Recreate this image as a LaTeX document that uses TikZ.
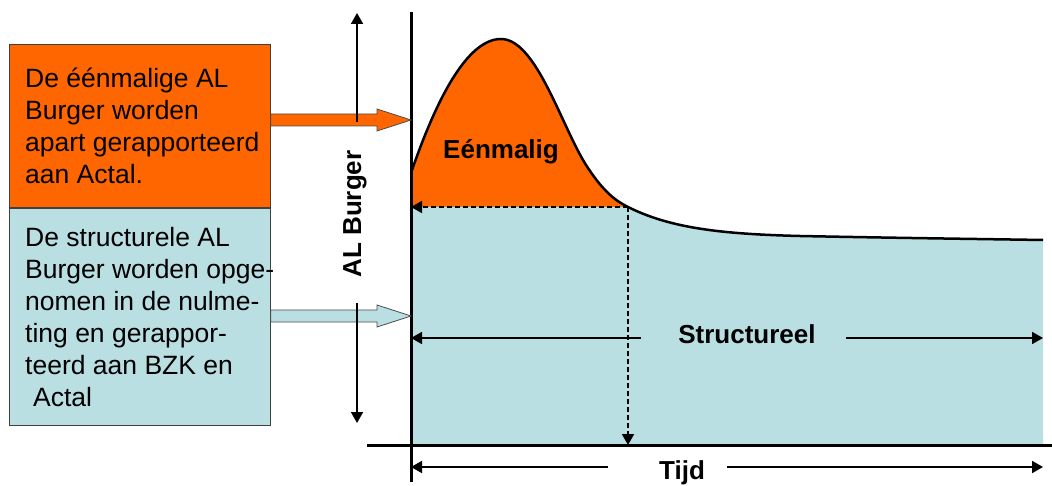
\documentclass[tikz,border=0pt]{standalone}
\usepackage{fontspec}
\setmainfont{Liberation Sans}
\usetikzlibrary{arrows.meta, positioning, calc}

\definecolor{eenorange}{RGB}{255,102,0}
\definecolor{structblue}{RGB}{185,223,227}

% curve pieces (pixel units)
\newcommand{\peakcurve}{(peakstart) .. controls (436,100) and (467,39) .. (501,39) .. controls (536,39) and (561,125) .. (586,165) .. controls (601,188) and (612,199) .. (peakend)}
\newcommand{\tailcurve}{.. controls (670,228) and (720,234) .. (800,236) .. controls (900,238) and (980,239) .. (tailend)}
% block arrow from #1 to tip #2
\newcommand{\blockarrow}[3]{\filldraw[blockarrow, fill=#3] ($(#1)+(0,6)$) -- ($(#2)+(-34,6)$) -- ($(#2)+(-34,11)$) -- (#2) -- ($(#2)+(-34,-11)$) -- ($(#2)+(-34,-6)$) -- ($(#1)+(0,-6)$) -- cycle;}

\begin{document}
\begin{tikzpicture}[
    x=1pt, y=-1pt,
    font=\fontsize{26.5}{32}\selectfont,
    >={Triangle[length=11pt, width=12pt]},
    infobox/.style={draw=black!75, line width=0.8pt, minimum width=261, minimum height=#1, anchor=north west, inner sep=0},
    boxtext/.style={anchor=north west, inner sep=0, align=left},
    label/.style={font=\fontsize{26}{32}\selectfont\bfseries, inner sep=0},
    axis/.style={line width=3pt},
    thinarrow/.style={->, line width=1.8pt},
    dasharrow/.style={->, line width=1.8pt, dash pattern=on 5pt off 3pt},
    curve/.style={line width=2.5pt},
    blockarrow/.style={draw=black!70, line width=0.8pt}
]
\useasboundingbox (0,0) rectangle (1052,486);

% COORDINATES
\coordinate (origin) at (411,445);
\coordinate (ytop) at (411,12);
\coordinate (ybottom) at (411,482);
\coordinate (xleft) at (367,445);
\coordinate (xright) at (1052,445);
\coordinate (peakstart) at (411,173);
\coordinate (peakend) at (628,207);
\coordinate (tailend) at (1043,240);

% FILLS
\fill[eenorange] \peakcurve -- (origin |- peakend) -- cycle;
\fill[structblue] (origin |- peakend) -- (peakend) \tailcurve -- (origin -| tailend) -- (origin) -- cycle;
\draw[curve] \peakcurve \tailcurve;

% DASHED LINES
\draw[dasharrow] (peakend) -- (origin |- peakend);
\draw[dasharrow] (peakend) -- (origin -| peakend);

% AXES
\draw[axis] (ytop) -- (ybottom);
\draw[axis] (xleft) -- (xright);

% TEXT BOXES
\node[infobox=163, fill=eenorange] (eenbox) at (9,44) {};
\node[infobox=217, fill=structblue] (structbox) at (eenbox.south west) {};
\node[boxtext] (eentext) at (25,68) {De éénmalige AL\\Burger worden\\apart gerapporteerd\\aan Actal.};
\node[boxtext] (structtext) at (25,227) {De structurele AL\\Burger worden opge-\\nomen in de nulme-\\ting en gerappor-\\teerd aan BZK en\\\hspace*{8pt}Actal};

% BLOCK ARROWS
\coordinate (eentip) at (411,120);
\coordinate (eenfrom) at (eenbox.east |- eentip);
\coordinate (structtip) at (411,316);
\coordinate (structfrom) at (structbox.east |- structtip);
\blockarrow{eenfrom}{eentip}{eenorange}
\blockarrow{structfrom}{structtip}{structblue}

% AL BURGER
\node[label, rotate=90] (alburger) at (355,214) {AL Burger};
\coordinate (alup) at (357,122);
\coordinate (altop) at (357,13);
\coordinate (aldown) at (357,303);
\coordinate (albottom) at (357,423);
\draw[thinarrow] (alup) -- (altop);
\draw[thinarrow] (aldown) -- (albottom);

% LABELS
\node[label, anchor=base] (eenmalig) at (501,159) {Eénmalig};
\node[label, anchor=base] (structureel) at (747,343) {Structureel};
\node[label, anchor=base] (tijd) at (682,479) {Tijd};

% STRUCTUREEL
\coordinate (strleft) at (641,338);
\coordinate (strright) at (846,338);
\draw[thinarrow] (strleft) -- (origin |- strleft);
\draw[thinarrow] (strright) -- (tailend |- strright);

% TIJD
\coordinate (tijdleft) at (608,467);
\coordinate (tijdright) at (727,467);
\draw[thinarrow] (tijdleft) -- (origin |- tijdleft);
\draw[thinarrow] (tijdright) -- (tailend |- tijdright);

\end{tikzpicture}
\end{document}
